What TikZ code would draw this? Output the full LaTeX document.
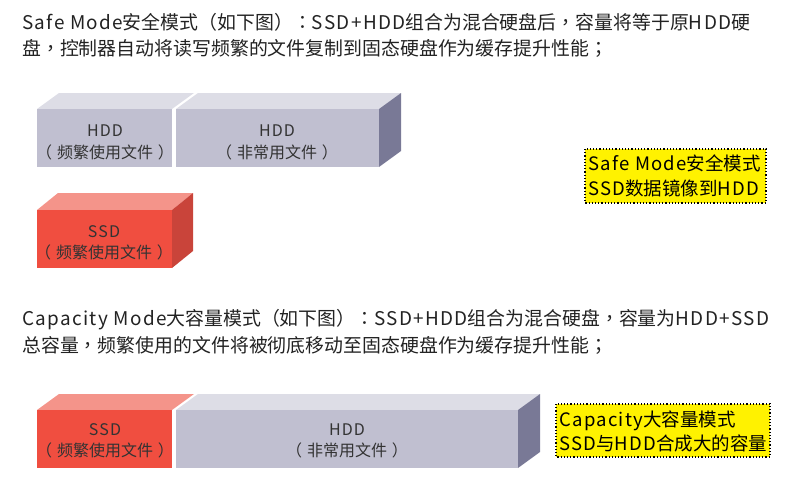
\documentclass[tikz,border=0pt]{standalone}
\usepackage{fontspec}
\newfontfamily\cjk{Noto Sans CJK SC}
\newfontfamily\tcp{Noto Sans CJK TC}
\newfontfamily\spc{Noto Sans CJK SC}[LetterSpace=7]
\newcommand{\lt}[1]{{\spc #1}}
\newcommand{\pc}[1]{{\tcp #1}}
\newcommand{\lpar}{\pc{（}\hspace{0.3em}}
\newcommand{\rpar}{\hspace{0.3em}\pc{）}}
\definecolor{hddfront}{HTML}{C0BFD0}
\definecolor{hddtop}{HTML}{DDDDE6}
\definecolor{hddside}{HTML}{797996}
\definecolor{ssdfront}{HTML}{F04E40}
\definecolor{ssdtop}{HTML}{F4948A}
\definecolor{ssdside}{HTML}{C9443A}
\definecolor{txt}{HTML}{222222}
\definecolor{boxtxt}{HTML}{333333}
\tikzset{
  titletext/.style={anchor=base west, inner sep=0pt, text=txt, font=\cjk\fontsize{18.9}{22}\selectfont},
  boxlabel/.style={inner sep=0pt, text=boxtxt, font=\cjk\fontsize{16}{18}\selectfont},
  notebox/.style={fill=yellow, draw=black, dotted, line width=1.2pt, inner sep=0pt},
  notetext/.style={anchor=west, inner sep=0pt, text=black, font=\cjk\fontsize{18.5}{21}\selectfont}
}
\begin{document}
\begin{tikzpicture}[x=1pt,y=-1pt]
\useasboundingbox (0,0) rectangle (789,493);
% ---- titles
\node[titletext] (t1) at (22,29) {\lt{Safe Mode}安全模式\pc{（}如下图\pc{）：}\lt{SSD+HDD}组合为混合硬盘后\pc{，}容量将等于原\lt{HDD}硬};
\node[titletext] (t2) at (22,55) {盘\pc{，}控制器自动将读写频繁的文件复制到固态硬盘作为缓存提升性能\pc{；}};
\node[titletext] (t3) at (22,325) {\lt{Capacity Mode}大容量模式\pc{（}如下图\pc{）：}\lt{SSD+HDD}组合为混合硬盘\pc{，}容量为\lt{HDD+SSD}};
\node[titletext] (t4) at (22,352) {总容量\pc{，}频繁使用的文件将被彻底移动至固态硬盘作为缓存提升性能\pc{；}};
% ---- Safe mode: HDD box 1
\fill[hddtop] (37,109) -- (59,93) -- (194,93) -- (172,109) -- cycle;
\fill[hddfront] (37,109) rectangle (172,167);
% HDD box 2
\fill[hddtop] (176,109) -- (198,93) -- (401,93) -- (379,109) -- cycle;
\fill[hddfront] (176,109) rectangle (379,167);
\fill[hddside] (379,109) -- (401,93) -- (401,151) -- (379,167) -- cycle;
\node[boxlabel] (h1a) at (105,131) {\lt{HDD}};
\node[boxlabel] (h1b) at (105,152) {\lpar 频繁使用文件\rpar};
\node[boxlabel] (h2a) at (277,131) {\lt{HDD}};
\node[boxlabel] (h2b) at (277,152) {\lpar 非常用文件\rpar};
% SSD box
\fill[ssdtop] (37,210) -- (58,193) -- (193,193) -- (172,210) -- cycle;
\fill[ssdfront] (37,210) rectangle (172,268);
\fill[ssdside] (172,210) -- (193,193) -- (193,251) -- (172,268) -- cycle;
\node[boxlabel] (s1a) at (104,232) {\lt{SSD}};
\node[boxlabel] (s1b) at (104,252) {\lpar 频繁使用文件\rpar};
% note 1
\draw[notebox] (585,149) rectangle (766,203);
\node[notetext] (n1a) at (588,163) {\lt{Safe Mode}安全模式};
\node[notetext] (n1b) at (588,188) {\lt{SSD}数据镜像到\lt{HDD}};
% ---- Capacity mode
\fill[ssdtop] (37,410) -- (59,394) -- (194,394) -- (172,410) -- cycle;
\fill[ssdfront] (37,410) rectangle (172,468);
\fill[hddtop] (176,410) -- (198,394) -- (540,394) -- (518,410) -- cycle;
\fill[hddfront] (176,410) rectangle (518,468);
\fill[hddside] (518,410) -- (540,394) -- (540,452) -- (518,468) -- cycle;
\node[boxlabel] (s2a) at (105,430) {\lt{SSD}};
\node[boxlabel] (s2b) at (105,450) {\lpar 频繁使用文件\rpar};
\node[boxlabel] (h3a) at (347,430) {\lt{HDD}};
\node[boxlabel] (h3b) at (347,450) {\lpar 非常用文件\rpar};
% note 2
\draw[notebox] (556,404) rectangle (770,457);
\node[notetext] (n2a) at (559,421) {\lt{Capacity}大容量模式};
\node[notetext] (n2b) at (559,443) {\lt{SSD}与\lt{HDD}合成大的容量};
\end{tikzpicture}
\end{document}
